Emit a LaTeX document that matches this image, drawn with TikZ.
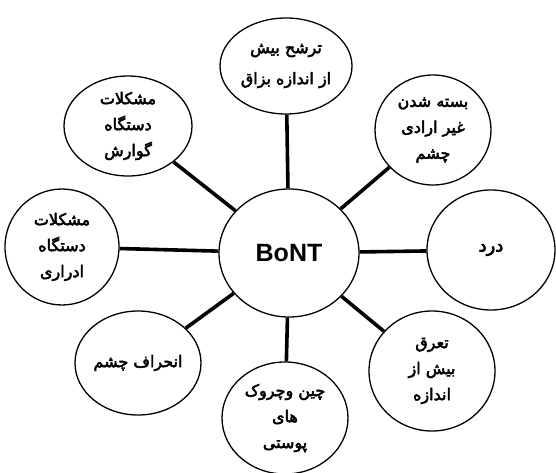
\documentclass[tikz,border=0pt]{standalone}
\usepackage{fontspec}
\usetikzlibrary{shapes.geometric}
\TeXXeTstate=1
\newfontfamily\arabicfont[Script=Arabic, FakeBold=3]{DejaVu Sans}
\newfontfamily\latinbold{Liberation Sans}
\tikzset{
  bubble/.style={draw=black, line width=1.3pt, ellipse, fill=white, inner sep=0pt,
                 font=\arabicfont\fontsize{16}{26}\selectfont, align=center},
  spoke/.style={line width=3.6pt, line cap=butt},
}
\begin{document}
\begin{tikzpicture}[x=1pt,y=-1pt]
\useasboundingbox (0,0) rectangle (556,473);
\node[bubble, minimum width=140pt, minimum height=128pt, font=\latinbold\bfseries\fontsize{25}{28}\selectfont] (c) at (289,253) {BoNT};
\node[bubble, minimum width=132pt, minimum height=96pt, font=\arabicfont\fontsize{16}{31}\selectfont] (t) at (286,66) {\beginR ترشح بیش\endR\\\beginR از اندازه بزاق\endR};
\node[bubble, minimum width=116pt, minimum height=110pt] (tr) at (433,130) {\beginR بسته شدن\endR\\\beginR غیر ارادی\endR\\\beginR چشم\endR};
\node[bubble, minimum width=128pt, minimum height=100pt] (tl) at (128,126) {\beginR مشکلات\endR\\\beginR دستگاه\endR\\\beginR گوارش\endR};
\node[bubble, minimum width=114pt, minimum height=116pt] (l) at (62,247) {\beginR مشکلات\endR\\\beginR دستگاه\endR\\\beginR ادراری\endR};
\node[bubble, minimum width=128pt, minimum height=120pt, font=\arabicfont\fontsize{18}{26}\selectfont] (r) at (491,250) {\beginR درد\endR};
\node[bubble, minimum width=126pt, minimum height=104pt] (bl) at (138,363) {\beginR انحراف چشم\endR};
\node[bubble, minimum width=126pt, minimum height=112pt] (b) at (285,418) {\beginR چین وچروک\endR\\\beginR های\endR\\\beginR پوستی\endR};
\node[bubble, minimum width=126pt, minimum height=120pt] (br) at (432,371) {\beginR تعرق\endR\\\beginR بیش از\endR\\\beginR اندازه\endR};
\foreach \n in {t,tr,tl,l,r,bl,b,br}{\draw[spoke] (c) -- (\n);}
\end{tikzpicture}
\end{document}
